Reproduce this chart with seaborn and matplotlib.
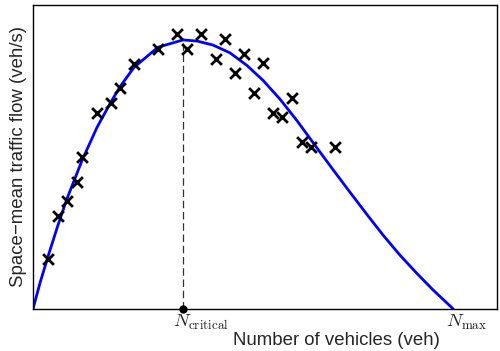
import numpy as np
import pandas as pd
import matplotlib
matplotlib.use("Agg")
import matplotlib.pyplot as plt
import matplotlib.transforms as mtransforms
import seaborn as sns

# observed (N, flow) pairs, flow scaled so that the curve peak is 1
obs_n = [3.64, 6.02, 8.16, 10.40, 11.59, 15.16, 18.56, 20.70, 24.10, 29.81,
         34.33, 36.71, 39.97, 43.54, 45.75, 48.06, 50.25, 52.58, 54.79, 57.03,
         59.36, 61.58, 63.93, 66.14, 71.85]
obs_q = [0.186, 0.347, 0.403, 0.473, 0.566, 0.727, 0.765, 0.820, 0.911, 0.965,
         1.021, 0.965, 1.021, 0.928, 1.003, 0.876, 0.947, 0.804, 0.913, 0.730,
         0.713, 0.783, 0.622, 0.603, 0.603]

# fitted flow curve
curve_n = [0, 1.67, 3.57, 5.95, 8.09, 11.66, 15.23, 18.56, 20.70, 24.03,
           29.74, 35.69, 39.02, 42.83, 46.87, 50.92, 54.72, 58.77, 62.81,
           67.50, 71.38, 75.42, 79.47, 83.27, 87.32, 91.36, 95.17, 100]
curve_q = [0, 0.097, 0.195, 0.312, 0.410, 0.552, 0.675, 0.770, 0.826, 0.898,
           0.973, 1.0, 0.996, 0.981, 0.952, 0.905, 0.850, 0.780, 0.700,
           0.600, 0.518, 0.434, 0.351, 0.275, 0.200, 0.132, 0.071, 0]

n_critical = 35.69
q_critical = 1.0
n_max = 100
tick_labels = [r"$N_\mathrm{critical}$", r"$N_\mathrm{max}$"]

sns.set_style("white")
plt.rcParams["font.family"] = ["Liberation Sans", "DejaVu Sans"]
plt.rcParams["mathtext.fontset"] = "cm"

obs = pd.DataFrame({"n": obs_n, "q": obs_q})
curve = pd.DataFrame({"n": curve_n, "q": curve_q})

fig = plt.figure(figsize=(5.0, 3.51), dpi=100)
ax = fig.add_axes([0.066, 0.1197, 0.928, 0.8661])

sns.lineplot(data=curve, x="n", y="q", color="#0000ff", linewidth=2.0, ax=ax,
             zorder=2)
sns.scatterplot(data=obs, x="n", y="q", marker="x", color="black", s=60,
                linewidth=2.0, ax=ax, zorder=3)
ax.plot([n_critical, n_critical], [0, q_critical], color="#333333",
        linewidth=0.9, linestyle=(0, (6, 3)), zorder=1)
ax.plot([n_critical], [0], marker="o", color="black", markersize=5,
        clip_on=False, zorder=4)

ax.set_xlim(0, 110.4)
ax.set_ylim(0, 1.13)
ax.set_yticks([])
ax.set_xticks([n_critical, n_max])
ax.set_xticklabels(tick_labels, fontsize=13.5, color="#222222")
ax.tick_params(axis="x", length=0, pad=3)
for lab, dx in zip(ax.get_xticklabels(), [18, 13]):
    lab.set_transform(lab.get_transform() +
                      mtransforms.ScaledTranslation(dx / 100, 0, fig.dpi_scale_trans))

ax.set_xlabel("Number of vehicles (veh)", fontsize=13.4)
ax.set_ylabel("Space\u2212mean traffic flow (veh/s)", fontsize=13.4)
ax.xaxis.set_label_coords(0.653, -0.075)
ax.yaxis.set_label_coords(-0.014, 0.5)

for sp in ax.spines.values():
    sp.set_color("black")
    sp.set_linewidth(1.0)
    sp.set_visible(True)

fig.savefig("out.png", dpi=100)
